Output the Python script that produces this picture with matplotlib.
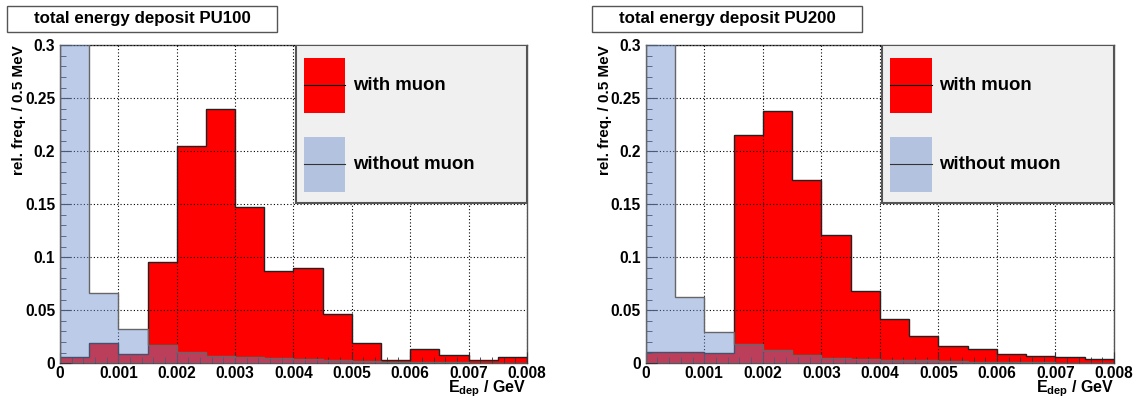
import numpy as np
import matplotlib.pyplot as plt
from matplotlib.ticker import MultipleLocator, FixedLocator
from matplotlib.patches import Rectangle
from matplotlib.lines import Line2D

plt.rcParams['font.family'] = ['Liberation Sans', 'DejaVu Sans']
plt.rcParams['font.weight'] = 'bold'
plt.rcParams['mathtext.fontset'] = 'custom'
plt.rcParams['mathtext.rm'] = 'Liberation Sans:bold'
plt.rcParams['mathtext.it'] = 'Liberation Sans:bold'
plt.rcParams['mathtext.bf'] = 'Liberation Sans:bold'

# bin edges in GeV (0.5 MeV bins)
edges = np.arange(0, 0.00801, 0.0005)

titles = ['total energy deposit PU100', 'total energy deposit PU200']

# relative frequencies
with_muon_pu100 = [0.0062, 0.019, 0.0088, 0.0955, 0.205, 0.240, 0.1477, 0.0874,
                   0.0899, 0.0462, 0.0191, 0.0028, 0.0135, 0.0081, 0.0028, 0.0059]
without_muon_pu100 = [0.80, 0.0666, 0.032, 0.017, 0.011, 0.0069, 0.0057, 0.0047,
                      0.0038, 0.003, 0.0022, 0.0016, 0.0012, 0.0009, 0.0007, 0.0005]

with_muon_pu200 = [0.0107, 0.0104, 0.0097, 0.215, 0.238, 0.173, 0.1213, 0.0685,
                   0.0415, 0.026, 0.0166, 0.0138, 0.0088, 0.0069, 0.0057, 0.0044]
without_muon_pu200 = [0.80, 0.0625, 0.0298, 0.0185, 0.0128, 0.0081, 0.005, 0.0044,
                      0.0035, 0.0028, 0.0022, 0.0016, 0.0012, 0.0009, 0.0007, 0.0005]

xticks = [0, 0.001, 0.002, 0.003, 0.004, 0.005, 0.006, 0.007, 0.008]
xtick_labels = ['0', '0.001', '0.002', '0.003', '0.004', '0.005', '0.006', '0.007', '0.008']
yticks = [0, 0.05, 0.1, 0.15, 0.2, 0.25, 0.3]
ytick_labels = ['0', '0.05', '0.1', '0.15', '0.2', '0.25', '0.3']

red = '#ff0000'
blue = '#6a8ccc'
blue_alpha = 0.45

fig = plt.figure(figsize=(11.4, 3.98), dpi=100)
axes_pos = [[0.0526, 0.0872, 0.4096, 0.799], [0.5664, 0.0872, 0.4108, 0.799]]
data = [(with_muon_pu100, without_muon_pu100), (with_muon_pu200, without_muon_pu200)]

for i in range(2):
    ax = fig.add_axes(axes_pos[i])
    wm, wo = data[i]

    ax.stairs(wm, edges, fill=True, color=red, zorder=2)
    ax.stairs(wm, edges, color='#222222', linewidth=1.0, zorder=3)
    ax.stairs(wo, edges, fill=True, color=blue, alpha=blue_alpha, zorder=4)
    ax.stairs(wo, edges, color='#666666', linewidth=1.0, zorder=5)

    ax.set_xlim(0, 0.008)
    ax.set_ylim(0, 0.3)
    ax.xaxis.set_major_locator(FixedLocator(xticks))
    ax.set_xticklabels(xtick_labels)
    ax.yaxis.set_major_locator(FixedLocator(yticks))
    ax.set_yticklabels(ytick_labels)
    ax.xaxis.set_minor_locator(MultipleLocator(0.0002))
    ax.yaxis.set_minor_locator(MultipleLocator(0.01))
    ax.tick_params(which='both', direction='in', top=False, right=False,
                   labelsize=11.2, color='#333333')
    ax.tick_params(axis='y', pad=3.5)
    ax.tick_params(axis='x', pad=2)
    ax.tick_params(which='major', length=8)
    ax.tick_params(which='minor', length=4)
    ax.grid(True, which='major', linestyle=(0, (1, 2)), color='black', linewidth=0.8, zorder=1)
    ax.set_axisbelow(False)
    for s in ax.spines.values():
        s.set_color('#555555')
        s.set_linewidth(1.0)

    ax.set_ylabel('rel. freq. / 0.5 MeV', fontsize=11, fontweight='bold', loc='top')
    ax.yaxis.set_label_coords(-0.072, 1.0)
    ax.text(1.0, -0.091, r'$\mathrm{E}_{\mathrm{dep}}$ / GeV', transform=ax.transAxes,
            fontsize=11.5, ha='right', va='baseline')

    # legend box
    leg = Rectangle((0.505, 0.504), 0.495, 0.496, transform=ax.transAxes,
                    facecolor='#f0f0f0', edgecolor='#555555', linewidth=1.5, zorder=10)
    ax.add_patch(leg)
    ax.add_patch(Rectangle((0.5225, 0.788), 0.088, 0.173, transform=ax.transAxes,
                           facecolor=red, edgecolor='none', zorder=11))
    ax.add_line(Line2D([0.5225, 0.6105], [0.875, 0.875], transform=ax.transAxes,
                       color='black', linewidth=0.8, zorder=12))
    ax.add_patch(Rectangle((0.5225, 0.540), 0.088, 0.173, transform=ax.transAxes,
                           facecolor=blue, alpha=blue_alpha, edgecolor='none', zorder=11))
    ax.add_line(Line2D([0.5225, 0.6105], [0.626, 0.626], transform=ax.transAxes,
                       color='#333333', linewidth=0.8, zorder=12))
    ax.text(0.627, 0.875, 'with muon', transform=ax.transAxes, fontsize=13.4,
            fontweight='bold', va='center', ha='left', zorder=12)
    ax.text(0.627, 0.626, 'without muon', transform=ax.transAxes, fontsize=13.4,
            fontweight='bold', va='center', ha='left', zorder=12)

    # title box
    bx = 7 if i == 0 else 592
    fig.patches.append(Rectangle((bx / 1140, (398 - 32) / 398), 270 / 1140, 26 / 398,
                                 transform=fig.transFigure, facecolor='white',
                                 edgecolor='#555555', linewidth=1.0))
    fig.text((bx + 135) / 1140, 1 - 19 / 398, titles[i], fontsize=12.2, fontweight='bold',
             ha='center', va='center')

fig.savefig('out.png', dpi=100)
